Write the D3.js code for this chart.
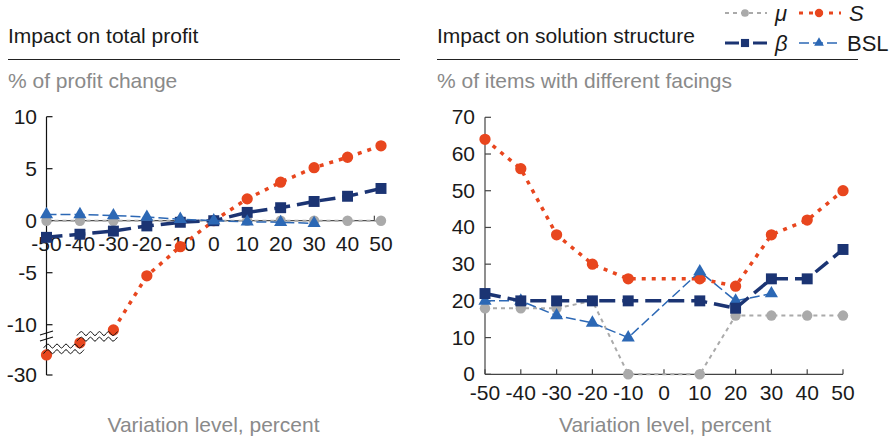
<!DOCTYPE html>
<html>
<head>
<meta charset="utf-8">
<script src="https://cdn.jsdelivr.net/npm/d3@7"></script>
<style>
  body { margin: 0; background: #fff; }
  svg text { font-family: "Liberation Sans", Arial, sans-serif; }
</style>
</head>
<body>
<svg id="chart" width="892" height="441"></svg>
<script>
// variation levels (x)
const levels = [-50, -40, -30, -20, -10, 0, 10, 20, 30, 40, 50];

// impact on total profit (% change)
const profitMu   = [0, 0, 0, 0, 0, 0, 0, 0, 0, 0, 0];
const profitS    = [-20, -14, -10.5, -5.3, -2.5, 0, 2.1, 3.7, 5.1, 6.1, 7.2];
const profitBeta = [-1.6, -1.3, -1.0, -0.5, -0.15, 0, 0.8, 1.25, 1.85, 2.35, 3.1];
const profitBSL  = [0.6, 0.6, 0.5, 0.35, 0.15, 0, -0.1, -0.15, -0.25, null, null];
const profitTicks = [10, 5, 0, -5, -10, -30];

// impact on solution structure (% items with different facings)
const structMu   = [18, 18, 18, 20, 0, null, 0, 16, 16, 16, 16];
const structS    = [64, 56, 38, 30, 26, null, 26, 24, 38, 42, 50];
const structBeta = [22, 20, 20, 20, 20, null, 20, 18, 26, 26, 34];
const structBSL  = [20, 20, 16, 14, 10, null, 28, 20, 22, null, null];
const structTicks = [0, 10, 20, 30, 40, 50, 60, 70];

const series = {
    mu:   {color: "#aaaaaa", width: 2,   dash: "4,4",  symbol: d3.symbolCircle,   size: 85,  label: "μ",   italic: true},
    S:    {color: "#e8461e", width: 3.5, dash: "4,6",  symbol: d3.symbolCircle,   size: 100, label: "S",   italic: true},
    beta: {color: "#1b3473", width: 3.5, dash: "16,7", symbol: d3.symbolSquare,   size: 120, label: "β",   italic: true},
    BSL:  {color: "#2c68b5", width: 1.5, dash: "10,4", symbol: d3.symbolTriangle, size: 75,  label: "BSL", italic: false}
};

const svg = d3.select("#chart");
const textDark = "#1a1a1a";
const textGray = "#8a8a8a";
const fs = 21;

function pairs(values) {
    return levels.map((x, i) => [x, values[i]]).filter(d => d[1] !== null);
}

function drawSeries(g, x, y, values, s, keep) {
    const pts = pairs(values);
    const linePts = keep ? pts.filter(keep) : pts;
    g.append("path")
        .datum(linePts)
        .attr("fill", "none")
        .attr("stroke", s.color)
        .attr("stroke-width", s.width)
        .attr("stroke-dasharray", s.dash)
        .attr("d", d3.line().x(d => x(d[0])).y(d => y(d[1])));
    g.selectAll(null)
        .data(pts)
        .enter()
        .append("path")
        .attr("transform", d => `translate(${x(d[0])},${y(d[1])})`)
        .attr("d", d3.symbol().type(s.symbol).size(s.size))
        .attr("fill", s.color);
}

function header(x0, x1, title, sub) {
    svg.append("text").attr("x", x0).attr("y", 43).attr("font-size", fs)
        .attr("fill", textDark).text(title);
    svg.append("line").attr("x1", x0).attr("x2", x1).attr("y1", 59.5).attr("y2", 59.5)
        .attr("stroke", "#222").attr("stroke-width", 1.2);
    svg.append("text").attr("x", x0).attr("y", 88).attr("font-size", fs)
        .attr("fill", textGray).text(sub);
}

// ---------- left panel: total profit ----------
header(8, 400, "Impact on total profit", "% of profit change");

const xL = d3.scaleLinear().domain([-50, 50]).range([46.5, 381]);
// broken axis: -11.2 .. -30 squeezed
const yL = d3.scaleLinear().domain([-30, -11.2, 10]).range([375, 337.2, 116.7]);

const gL = svg.append("g");

// y axis
gL.append("line").attr("x1", xL(-50)).attr("x2", xL(-50)).attr("y1", yL(10)).attr("y2", yL(-30))
    .attr("stroke", "#111").attr("stroke-width", 1.2);
profitTicks.forEach(t => {
    gL.append("line").attr("x1", xL(-50)).attr("x2", xL(-50) + 6).attr("y1", yL(t)).attr("y2", yL(t))
        .attr("stroke", "#111").attr("stroke-width", 1.2);
    gL.append("text").attr("x", 37).attr("y", yL(t)).attr("dy", "0.35em")
        .attr("text-anchor", "end").attr("font-size", fs).attr("fill", textDark).text(t);
});
// axis break marks
[333, 339].forEach(yy => {
    gL.append("line").attr("x1", 40).attr("x2", 53).attr("y1", yy + 2).attr("y2", yy - 2)
        .attr("stroke", "#111").attr("stroke-width", 1.1);
});

// zero line
gL.append("line").attr("x1", xL(-50)).attr("x2", xL(50)).attr("y1", yL(0)).attr("y2", yL(0))
    .attr("stroke", "#222").attr("stroke-width", 1);
gL.append("line").attr("x1", xL(48)).attr("x2", xL(48)).attr("y1", yL(0)).attr("y2", yL(0) - 5)
    .attr("stroke", "#222").attr("stroke-width", 1);

// x tick labels
levels.forEach(v => {
    gL.append("text").attr("x", xL(v)).attr("y", 251).attr("text-anchor", "middle")
        .attr("font-size", fs).attr("fill", textDark).text(v);
});

drawSeries(gL, xL, yL, profitMu, series.mu);
drawSeries(gL, xL, yL, profitS, series.S, d => d[0] >= -30);
drawSeries(gL, xL, yL, profitBeta, series.beta);
drawSeries(gL, xL, yL, profitBSL, series.BSL);

// wavy break marks on the S line
function wavy(xa, xb, yc) {
    const pts = [];
    for (let xx = xa, k = 0; xx <= xb; xx += 4.5, k++) pts.push([xx, yc + (k % 2 ? -2 : 2)]);
    return d3.line().curve(d3.curveCardinal)(pts);
}
[[0, 1], [1, 2]].forEach(([a, b]) => {
    const xa = xL(levels[a]) - 3, xb = xL(levels[b]) + 5;
    const yc = (yL(profitS[a]) + yL(profitS[b])) / 2;
    [-2.8, 2.8].forEach(off => {
        gL.append("path").attr("d", wavy(xa, xb, yc + off)).attr("fill", "none")
            .attr("stroke", "#111").attr("stroke-width", 1);
    });
});

svg.append("text").attr("x", 213.5).attr("y", 432).attr("text-anchor", "middle")
    .attr("font-size", fs).attr("fill", textGray).text("Variation level, percent");

// ---------- right panel: solution structure ----------
header(437, 858, "Impact on solution structure", "% of items with different facings");

const xR = d3.scaleLinear().domain([-50, 50]).range([485, 843]);
const yR = d3.scaleLinear().domain([0, 70]).range([374.3, 117.3]);
const gR = svg.append("g");
const axisColor = "#444";

gR.append("line").attr("x1", xR(-50)).attr("x2", xR(-50)).attr("y1", yR(70)).attr("y2", yR(0))
    .attr("stroke", axisColor).attr("stroke-width", 1.2);
gR.append("line").attr("x1", xR(-50)).attr("x2", xR(50)).attr("y1", yR(0)).attr("y2", yR(0))
    .attr("stroke", axisColor).attr("stroke-width", 1.2);
structTicks.forEach(t => {
    gR.append("line").attr("x1", xR(-50)).attr("x2", xR(-50) + 6).attr("y1", yR(t)).attr("y2", yR(t))
        .attr("stroke", axisColor).attr("stroke-width", 1.2);
    gR.append("text").attr("x", 475).attr("y", yR(t)).attr("dy", "0.33em")
        .attr("text-anchor", "end").attr("font-size", fs).attr("fill", textDark).text(t);
});
levels.forEach(v => {
    gR.append("line").attr("x1", xR(v)).attr("x2", xR(v)).attr("y1", yR(0)).attr("y2", yR(0) - 5)
        .attr("stroke", axisColor).attr("stroke-width", 1.2);
    gR.append("text").attr("x", xR(v)).attr("y", 400).attr("text-anchor", "middle")
        .attr("font-size", fs).attr("fill", textDark).text(v);
});

drawSeries(gR, xR, yR, structMu, series.mu);
drawSeries(gR, xR, yR, structS, series.S);
drawSeries(gR, xR, yR, structBSL, series.BSL);
drawSeries(gR, xR, yR, structBeta, series.beta);

svg.append("text").attr("x", 665).attr("y", 432).attr("text-anchor", "middle")
    .attr("font-size", fs).attr("fill", textGray).text("Variation level, percent");

// ---------- legend ----------
const legendItems = [
    {s: series.mu, x: 725, y: 13},
    {s: series.S, x: 799, y: 13},
    {s: series.beta, x: 725, y: 43},
    {s: series.BSL, x: 799, y: 43}
];
const lg = svg.append("g");
legendItems.forEach(it => {
    const s = it.s;
    lg.append("line").attr("x1", it.x).attr("x2", it.x + 42).attr("y1", it.y).attr("y2", it.y)
        .attr("stroke", s.color).attr("stroke-width", Math.min(s.width, 3))
        .attr("stroke-dasharray", s === series.beta ? "14,4,6,4" : s.dash);
    lg.append("path").attr("transform", `translate(${it.x + 20},${it.y})`)
        .attr("d", d3.symbol().type(s.symbol).size(s.size * 0.55)).attr("fill", s.color);
    lg.append("text").attr("x", it.x + (s.italic ? 50 : 48)).attr("y", it.y).attr("dy", "0.35em")
        .attr("font-size", 22).attr("font-style", s.italic ? "italic" : "normal")
        .attr("fill", textDark).text(s.label);
});
</script>
</body>
</html>
